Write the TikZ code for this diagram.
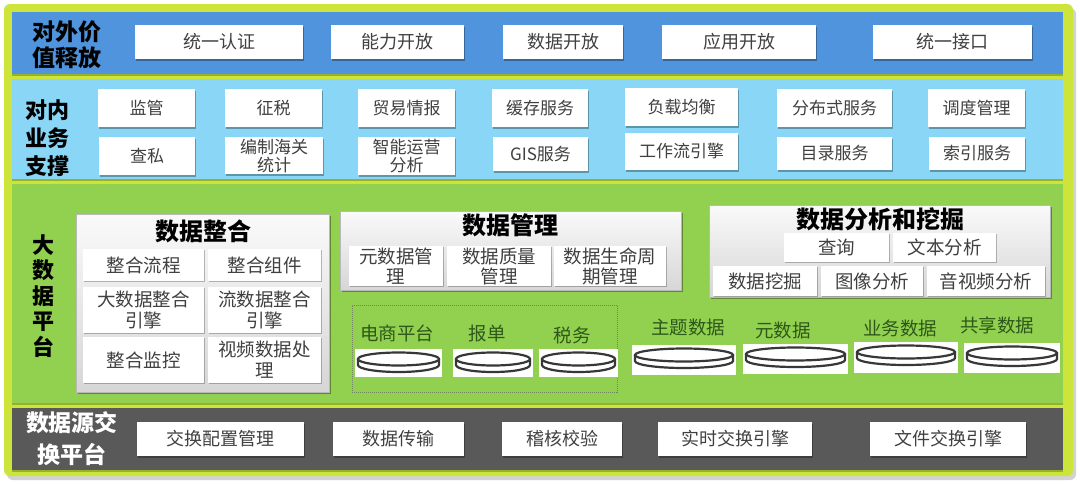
\documentclass[tikz,border=0pt]{standalone}
\usepackage{fontspec}
\setmainfont{Noto Sans CJK SC}
\usetikzlibrary{shadows}
\definecolor{limec}{RGB}{205,228,58}
\definecolor{oliveline}{RGB}{150,178,40}
\definecolor{bandblue}{RGB}{79,148,220}
\definecolor{bandcyan}{RGB}{137,214,246}
\definecolor{bandgreen}{RGB}{146,208,80}
\definecolor{banddark}{RGB}{89,89,89}
\definecolor{txt}{RGB}{64,64,64}
\definecolor{dgreen}{RGB}{45,88,25}
\definecolor{diskc}{RGB}{55,55,55}
\definecolor{dotc}{RGB}{115,135,95}
\newcommand{\bx}[7][]{\node[#1, minimum width={#4-#2}, minimum height={#5-#3}] (#6) at ({(#2+#4)/2},{(#3+#5)/2}) {#7};}
\newcommand{\disk}[5]{%
  \node[diskbg, minimum width={#4-#2}, minimum height={#5-#3}] (#1) at ({(#2+#4)/2},{(#3+#5)/2}) {};
  \draw[diskline] ({#2+3},{#3+10}) -- ({#2+3},{#3+16}) arc[start angle=180,end angle=0,x radius={(#4-#2)/2-3},y radius=7] -- ({#4-3},{#3+10});
  \draw[diskline] ({(#2+#4)/2},{#3+10}) ellipse[x radius={(#4-#2)/2-3}, y radius=6.5];
}
\tikzset{
  box/.style={fill=white, text=txt, font=\fontsize{18}{21}\selectfont, align=center,
    drop shadow={shadow xshift=1.2pt, shadow yshift=-1.6pt, opacity=0.3, fill=black}},
  boxs/.style={box, font=\fontsize{17}{18}\selectfont},
  ibox/.style={fill=white, text=txt, font=\fontsize{18.5}{21}\selectfont, align=center,
    drop shadow={shadow xshift=1pt, shadow yshift=-1.2pt, opacity=0.25, fill=black}},
  iboxt/.style={ibox, font=\fontsize{18.5}{20}\selectfont},
  panel/.style={draw=gray!55, line width=0.6pt, top color=gray!4, bottom color=gray!32,
    drop shadow={shadow xshift=1.5pt, shadow yshift=-2pt, opacity=0.35, fill=black}},
  ptitle/.style={font=\fontsize{24}{26}\bfseries\selectfont, text=black},
  side/.style={font=\fontsize{23}{26}\bfseries\selectfont, align=center, text=black},
  dlabel/.style={text=dgreen, font=\fontsize{18.5}{20}\selectfont},
  diskbg/.style={fill=white},
  diskline/.style={draw=diskc, line width=2.2pt, fill=white},
}
\begin{document}
\begin{tikzpicture}[x=1pt,y=-1pt,inner sep=0pt,outer sep=0pt]
\useasboundingbox (0,0) rectangle (1080,483);
\fill[white] (0,0) rectangle (1080,483);
% outer frame
\fill[gray!35, rounded corners=6] (7,8) rectangle (1076,480);
\fill[limec, rounded corners=6] (4,4) rectangle (1073,476);
% bands
\fill[oliveline] (12,13.5) rectangle (1063,75.5);
\fill[bandblue] (12,12) rectangle (1063,74);
\fill[oliveline] (12,80.5) rectangle (1063,181);
\fill[bandcyan] (12,79) rectangle (1063,179);
\fill[oliveline] (12,185.5) rectangle (1063,405);
\fill[bandgreen] (12,184) rectangle (1063,403);
\fill[oliveline] (12,409.5) rectangle (1063,472);
\fill[banddark] (12,408) rectangle (1063,470);

% band 1
\node[side, font=\fontsize{23}{26}\bfseries\selectfont] (L1) at (67,45) {对外价\\值释放};
\bx[box]{135}{25}{303}{59}{t1}{统一认证}
\bx[box]{331}{25}{464}{59}{t2}{能力开放}
\bx[box]{503}{25}{623}{59}{t3}{数据开放}
\bx[box]{662}{25}{816}{59}{t4}{应用开放}
\bx[box]{873}{25}{1032}{59}{t5}{统一接口}

% band 2
\node[side, font=\fontsize{22}{28}\bfseries\selectfont] (L2) at (47,138) {对内\\业务\\支撑};
\bx[boxs]{98}{89}{195}{127}{r1}{监管}
\bx[boxs]{225}{89}{322}{127}{r2}{征税}
\bx[boxs]{358}{89}{455}{127}{r3}{贸易情报}
\bx[boxs]{492}{89}{588}{127}{r4}{缓存服务}
\bx[boxs]{625}{88}{738}{126}{r5}{负载均衡}
\bx[boxs]{777}{89}{892}{127}{r6}{分布式服务}
\bx[boxs]{928}{89}{1025}{127}{r7}{调度管理}
\bx[boxs]{99}{137}{195}{175}{s1}{查私}
\bx[boxs]{225}{137}{323}{174}{s2}{编制海关\\统计}
\bx[boxs]{358}{137}{455}{175}{s3}{智能运营\\分析}
\bx[boxs]{493}{137}{588}{171}{s4}{GIS服务}
\bx[boxs]{625}{133}{738}{170}{s5}{工作流引擎}
\bx[boxs]{777}{137}{892}{170}{s6}{目录服务}
\bx[boxs]{929}{137}{1025}{170}{s7}{索引服务}

% band 3
\node[side, font=\fontsize{22}{25.5}\bfseries\selectfont] (L3) at (43,296) {大\\数\\据\\平\\台};
% panel 1
\bx[panel]{76}{214}{329}{392}{p1}{}
\node[ptitle] (p1t) at (203,231) {数据整合};
\bx[ibox]{83}{249}{204}{281}{a1}{整合流程}
\bx[ibox]{208}{249}{321}{281}{a2}{整合组件}
\bx[ibox]{83}{287}{204}{333}{a3}{大数据整合\\引擎}
\bx[ibox]{208}{287}{321}{333}{a4}{流数据整合\\引擎}
\bx[ibox]{83}{337}{204}{383}{a5}{整合监控}
\bx[ibox]{208}{337}{321}{383}{a6}{视频数据处\\理}
% panel 2
\bx[panel]{340}{211}{681}{290}{p2}{}
\node[ptitle] (p2t) at (510,225) {数据管理};
\bx[iboxt]{349}{246}{443}{286}{b1}{元数据管\\理}
\bx[iboxt]{447}{246}{551}{286}{b2}{数据质量\\管理}
\bx[iboxt]{554}{246}{666}{286}{b3}{数据生命周\\期管理}
% panel 3
\bx[panel]{709}{205}{1050}{297}{p3}{}
\node[ptitle] (p3t) at (880,219) {数据分析和挖掘};
\bx[ibox]{784}{233}{889}{262}{c1}{查询}
\bx[ibox]{893}{233}{996}{262}{c2}{文本分析}
\bx[ibox]{713}{266}{817}{296}{c3}{数据挖掘}
\bx[ibox]{821}{266}{923}{296}{c4}{图像分析}
\bx[ibox]{927}{266}{1045}{296}{c5}{音视频分析}
% data sources
\bx[draw=dotc, line width=1pt, densely dotted]{352}{305}{617}{392}{grp}{}
\node[dlabel] (n1) at (397,333) {电商平台};
\node[dlabel] (n2) at (487,333) {报单};
\node[dlabel] (n3) at (572,335) {税务};
\disk{d1}{355}{349}{442}{377}
\disk{d2}{453}{349}{533}{377}
\disk{d3}{539}{349}{618}{377}
\node[dlabel] (n4) at (688,327) {主题数据};
\node[dlabel] (n5) at (783,330) {元数据};
\node[dlabel] (n6) at (900,328) {业务数据};
\node[dlabel] (n7) at (997,325) {共享数据};
\disk{d4}{632}{345}{736}{375}
\disk{d5}{743}{344}{848}{374}
\disk{d6}{854}{342}{958}{373}
\disk{d7}{964}{343}{1060}{373}

% band 4
\node[side, text=white, font=\fontsize{23}{32}\bfseries\selectfont] (L4) at (72,439) {数据源交\\换平台};
\bx[box]{137}{422}{304}{456}{e1}{交换配置管理}
\bx[box]{333}{422}{464}{456}{e2}{数据传输}
\bx[box]{502}{422}{622}{456}{e3}{稽核校验}
\bx[box]{658}{422}{812}{456}{e4}{实时交换引擎}
\bx[box]{870}{422}{1026}{456}{e5}{文件交换引擎}
\end{tikzpicture}
\end{document}
